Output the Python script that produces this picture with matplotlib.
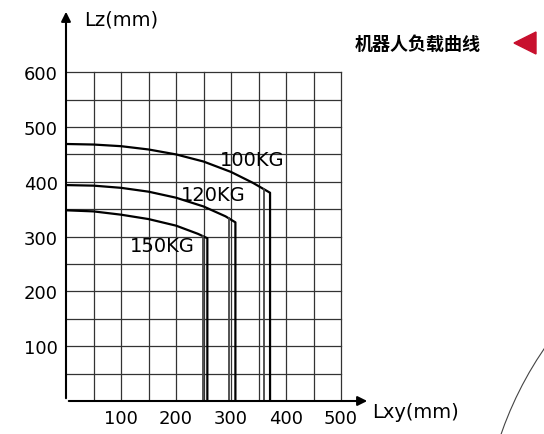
import matplotlib
matplotlib.use("Agg")
import matplotlib.pyplot as plt
import numpy as np
from matplotlib.patches import Arc, Polygon

plt.rcParams['font.family'] = ['Noto Sans CJK SC', 'DejaVu Sans']

x100 = [0, 50, 100, 150, 200, 250, 300, 340, 371]
y100 = [469, 468, 465, 459, 450, 437, 418, 398, 380]
x120 = [0, 50, 100, 150, 200, 250, 290, 308]
y120 = [394, 393, 389, 382, 371, 355, 337, 326]
x150 = [0, 50, 100, 150, 200, 240, 257]
y150 = [348, 346, 340, 332, 320, 305, 297]
inner_x = [360, 296, 249]
labels = ["100KG", "120KG", "150KG"]
label_pos = [(338, 440), (267, 376), (176, 283)]
xticks = [100, 200, 300, 400, 500]
yticks = [100, 200, 300, 400, 500, 600]

W, H = 544, 435
fig = plt.figure(figsize=(W/100, H/100), dpi=100)
ax = fig.add_axes([66/W, 33/H, (370-66)/W, (402-10)/H])
ax.set_xlim(0, (370-66)/0.55)
ax.set_ylim(0, (402-10)/0.548)
for s in ax.spines.values():
    s.set_visible(False)
for v in range(50, 501, 50):
    ax.plot([v, v], [0, 600], color='#333', lw=0.9)
for v in range(50, 601, 50):
    ax.plot([0, 500], [v, v], color='#333', lw=0.9)
ax.annotate('', xy=(ax.get_xlim()[1], 0), xytext=(0, 0),
            arrowprops=dict(arrowstyle='-|>', color='black', lw=1.5, mutation_scale=14))
ax.annotate('', xy=(0, ax.get_ylim()[1]), xytext=(0, 0),
            arrowprops=dict(arrowstyle='-|>', color='black', lw=1.5, mutation_scale=14))
for xs, ys, xi in zip([x100, x120, x150], [y100, y120, y150], inner_x):
    ax.plot(xs + [xs[-1]], ys + [0], color='black', lw=1.6)
    ax.plot([xi, xi], [np.interp(xi, xs, ys), 0], color='#444', lw=1.3)
for t, (px, py) in zip(labels, label_pos):
    ax.text(px, py, t, fontsize=14, ha='center', va='center', family='DejaVu Sans')
ax.set_xticks(xticks)
ax.set_yticks(yticks)
ax.tick_params(length=0, labelsize=13, pad=6)
for lab in ax.get_xticklabels() + ax.get_yticklabels():
    lab.set_family('DejaVu Sans')
ax.text(0.06, 1.0, 'Lz(mm)', transform=ax.transAxes, fontsize=14, va='top', family='DejaVu Sans')
fig.text(372/W, 1-413/H, 'Lxy(mm)', fontsize=14, va='center', family='DejaVu Sans')
fig.text(355/W, 1-44/H, '机器人负载曲线', fontsize=13, weight='bold', va='center')
fig.patches.append(Polygon([[514/W, 1-44/H], [536/W, 1-33/H], [536/W, 1-55/H]],
                           closed=True, transform=fig.transFigure, color='#c8102e'))
fig.patches.append(Arc((800/W, 1-560/H), 640/W, 700/H, theta1=100, theta2=180,
                       transform=fig.transFigure, color='#444', lw=0.8))
fig.savefig('out.png', dpi=100)
